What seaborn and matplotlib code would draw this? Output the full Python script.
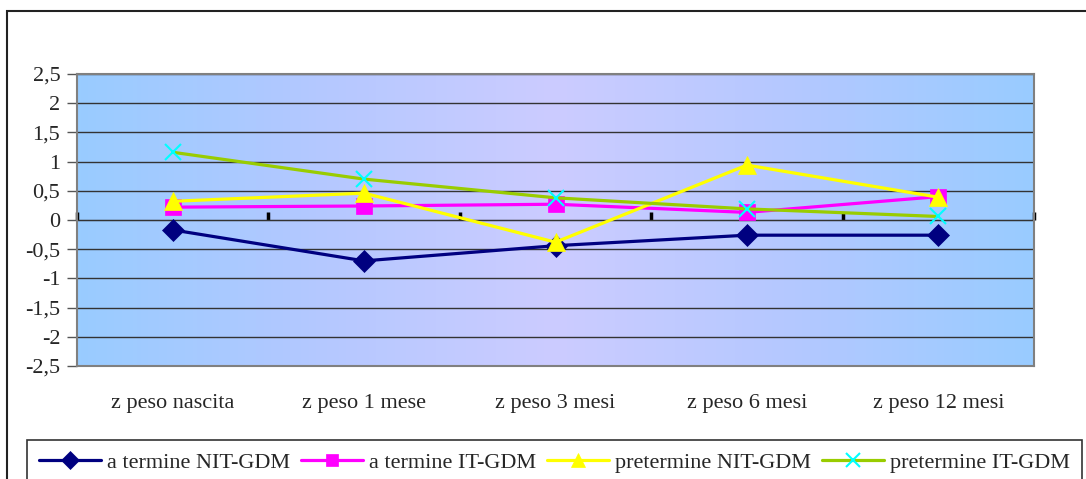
import numpy as np
import pandas as pd
import matplotlib
matplotlib.use("Agg")
import matplotlib.pyplot as plt
from matplotlib.colors import LinearSegmentedColormap
from matplotlib.patches import Rectangle
import seaborn as sns

categories = ["z peso nascita", "z peso 1 mese", "z peso 3 mesi", "z peso 6 mesi", "z peso 12 mesi"]
series_names = ["a termine NIT-GDM", "a termine IT-GDM", "pretermine NIT-GDM", "pretermine IT-GDM"]
a_termine_nit = [-0.17, -0.70, -0.44, -0.26, -0.26]
a_termine_it = [0.22, 0.24, 0.27, 0.13, 0.40]
pretermine_nit = [0.32, 0.46, -0.38, 0.94, 0.39]
pretermine_it = [1.16, 0.70, 0.38, 0.19, 0.06]
y_ticks = [2.5, 2, 1.5, 1, 0.5, 0, -0.5, -1, -1.5, -2, -2.5]
y_tick_labels = ["2,5", "2", "1,5", "1", "0,5", "0", "-0,5", "-1", "-1,5", "-2", "-2,5"]

sns.set_style("white")
plt.rcParams["font.family"] = ["Liberation Serif", "DejaVu Serif"]

W, H = 1086, 479
FS = 16
fig = plt.figure(figsize=(W / 100, H / 100), dpi=100)
ax = fig.add_axes([77 / W, 1 - 366 / H, (1034 - 77) / W, (366 - 74) / H])

# background gradient
cmap = LinearSegmentedColormap.from_list("bg", ["#99CCFF", "#B4C8FF", "#CCCCFF", "#B4C8FF", "#99CCFF"])
grad = np.linspace(0, 1, 256).reshape(1, -1)
ax.imshow(grad, cmap=cmap, aspect="auto", extent=[0, 1, 0, 1], transform=ax.transAxes, zorder=0)

x = np.arange(len(categories))
styles = [
    (a_termine_nit, "#000080", "#000080", "D", 11),
    (a_termine_it, "#FF00FF", "#FF00FF", "s", 11),
    (pretermine_nit, "#FFFF00", "#FFFF00", "^", 13),
    (pretermine_it, "#99CC00", "#00FFFF", "x", 12),
]
for name, (vals, lc, mc, mk, ms) in zip(series_names, styles):
    sns.lineplot(x=x, y=vals, ax=ax, color=lc, marker=mk, markersize=ms,
                 markerfacecolor=mc, markeredgecolor=mc, markeredgewidth=1.5 if mk == "x" else 0.5,
                 linewidth=2.3, sort=False, label=name, zorder=3, legend=False)

ax.set_xlim(-0.5, len(categories) - 0.5)
ax.set_ylim(-2.5, 2.5)
ax.set_yticks(y_ticks)
ax.set_yticklabels(y_tick_labels, fontsize=FS)
ax.set_xticks(x)
ax.set_xticklabels(categories, fontsize=FS)
ax.tick_params(axis="x", length=0, pad=20)
ax.tick_params(axis="y", length=7, width=1, color="#555555", pad=5, direction="out", left=True)
for yv in y_ticks:
    ax.axhline(yv, color="#333333", linewidth=1.0, zorder=1)
for s in ax.spines.values():
    s.set_color("#808080")
    s.set_linewidth(1.5)

# zero axis with category-boundary ticks
sec = ax.secondary_xaxis(0.5)
sec.set_xticks(np.arange(len(categories) + 1) - 0.5)
sec.set_xticklabels([])
sec.tick_params(direction="out", length=6, width=2.5, color="black")
sec.spines["bottom"].set_linewidth(3)
sec.spines["bottom"].set_color("black")

# outer chart border
fig.patches.append(Rectangle((7 / W, -0.05), 1.2, 1 - 11 / H + 0.05, transform=fig.transFigure,
                             fill=False, edgecolor="#222222", linewidth=1.5, zorder=0))

handles, labels = ax.get_legend_handles_labels()
leg = fig.legend(handles, labels, loc="lower left", bbox_to_anchor=(27 / W, -0.012), ncol=4,
                 fontsize=FS, frameon=True, fancybox=False, edgecolor="black",
                 handlelength=2.8, columnspacing=0.5, handletextpad=0.25, borderpad=0.55,
                 borderaxespad=0, markerscale=0.8)
leg.get_frame().set_linewidth(1.2)

fig.savefig("out.png", dpi=100)
